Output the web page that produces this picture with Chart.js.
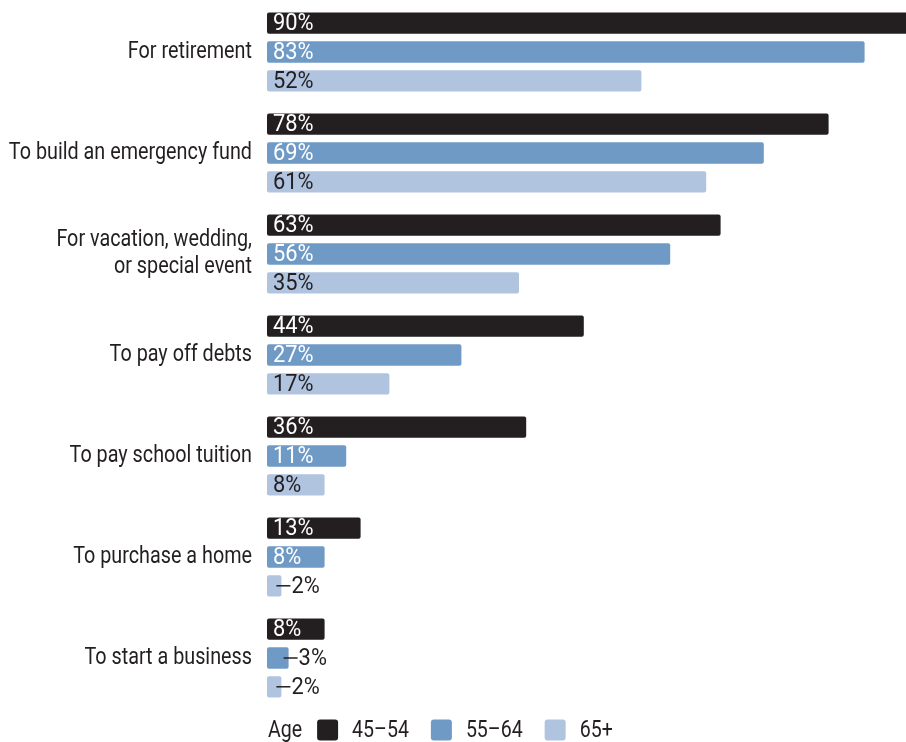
<!DOCTYPE html>
<html>
<head>
<meta charset="utf-8">
<script src="https://cdn.jsdelivr.net/npm/chart.js@4/dist/chart.umd.min.js"></script>
<style>
  html, body { margin: 0; padding: 0; background: #ffffff; overflow: hidden; }
  #wrap { width: 906px; height: 742px; position: relative; }
</style>
</head>
<body>
<div id="wrap"><canvas id="chart" width="906" height="742"></canvas></div>
<script>
// Reasons for saving, by age group (percent of respondents)
const categories = [
  'For retirement',
  'To build an emergency fund',
  ['For vacation, wedding,', 'or special event'],
  'To pay off debts',
  'To pay school tuition',
  'To purchase a home',
  'To start a business'
];
const ageGroups = ['45–54', '55–64', '65+'];
const age45to54 = [90, 78, 63, 44, 36, 13, 8];
const age55to64 = [83, 69, 56, 27, 11, 8, 3];
const age65plus = [52, 61, 35, 17, 8, 2, 2];
const legendTitle = 'Age';

const FONT = "Roboto, 'DejaVu Sans Condensed', sans-serif";
const WEIGHT = '400 ';
const TEXT_DARK = '#231f20';
const seriesColors = ['#231f20', '#6f9ac6', '#b0c4e0'];
const labelColors = ['#ffffff', '#ffffff', '#231f20'];

// Draw text narrowed horizontally by factor sx (condensed look)
function narrowText(ctx, text, x, y, sx, align) {
  ctx.save();
  ctx.translate(x, y);
  ctx.scale(sx, 1);
  ctx.textAlign = align || 'left';
  ctx.fillText(text, 0, 0);
  ctx.restore();
}
function narrowWidth(ctx, text, sx) {
  return ctx.measureText(text).width * sx;
}

// Category names, right-aligned against the bars
const categoryLabels = {
  id: 'categoryLabels',
  afterDraw(chart) {
    const ctx = chart.ctx;
    const yScale = chart.scales.y;
    const x = chart.chartArea.left - 15;
    const lineH = 27;
    ctx.save();
    ctx.font = WEIGHT + '23px ' + FONT;
    ctx.textBaseline = 'middle';
    ctx.fillStyle = TEXT_DARK;
    chart.data.labels.forEach((lbl, i) => {
      const lines = Array.isArray(lbl) ? lbl : [lbl];
      const cy = yScale.getPixelForTick(i);
      const y0 = cy - (lines.length - 1) * lineH / 2;
      lines.forEach((ln, k) => narrowText(ctx, ln, x, y0 + k * lineH, 0.86, 'right'));
    });
    ctx.restore();
  }
};

// Percent labels: inside the bar when it fits, otherwise a short leader line and the label outside
const valueLabels = {
  id: 'valueLabels',
  afterDatasetsDraw(chart) {
    const ctx = chart.ctx;
    const sx = 0.95;
    ctx.save();
    ctx.font = WEIGHT + '23px ' + FONT;
    ctx.textBaseline = 'middle';
    chart.data.datasets.forEach((ds, di) => {
      const meta = chart.getDatasetMeta(di);
      meta.data.forEach((bar, i) => {
        const txt = ds.data[i] + '%';
        const left = Math.min(bar.base, bar.x);
        const right = Math.max(bar.base, bar.x);
        const w = narrowWidth(ctx, txt, sx);
        const y = bar.y + 1;
        if (right - left >= w + 12) {
          ctx.fillStyle = labelColors[di];
          narrowText(ctx, txt, left + 6, y, sx, 'left');
        } else {
          ctx.strokeStyle = TEXT_DARK;
          ctx.lineWidth = 1.5;
          ctx.beginPath();
          ctx.moveTo(right - 5, bar.y);
          ctx.lineTo(right + 9, bar.y);
          ctx.stroke();
          ctx.fillStyle = TEXT_DARK;
          narrowText(ctx, txt, right + 10, y, sx, 'left');
        }
      });
    });
    ctx.restore();
  }
};

// Legend row along the bottom: title followed by a swatch and label per age group
const ageLegend = {
  id: 'ageLegend',
  afterDraw(chart) {
    const ctx = chart.ctx;
    const cy = 730;
    const sx = 0.85;
    ctx.save();
    ctx.font = WEIGHT + '23px ' + FONT;
    ctx.textBaseline = 'middle';
    ctx.fillStyle = TEXT_DARK;
    let x = chart.chartArea.left + 1;
    narrowText(ctx, legendTitle, x, cy + 1, sx, 'left');
    x += narrowWidth(ctx, legendTitle, sx) + 15;
    chart.data.datasets.forEach((ds, di) => {
      ctx.fillStyle = seriesColors[di];
      ctx.beginPath();
      ctx.roundRect(x, cy - 10.5, 21, 21, 3);
      ctx.fill();
      x += 21 + 14;
      ctx.fillStyle = TEXT_DARK;
      narrowText(ctx, ds.label, x, cy + 1, sx, 'left');
      x += narrowWidth(ctx, ds.label, sx) + 22;
    });
    ctx.restore();
  }
};

const seriesValues = [age45to54, age55to64, age65plus];

new Chart(document.getElementById('chart'), {
  type: 'bar',
  data: {
    labels: categories,
    datasets: ageGroups.map((g, i) => ({
      label: g,
      data: seriesValues[i],
      backgroundColor: seriesColors[i],
      borderWidth: 0,
      borderRadius: 2,
      borderSkipped: false,
      categoryPercentage: 0.855,
      barPercentage: 0.74
    }))
  },
  options: {
    indexAxis: 'y',
    responsive: false,
    animation: false,
    layout: { padding: { top: 1.5, bottom: 33.5, left: 0, right: 0 } },
    plugins: {
      legend: { display: false },
      tooltip: { enabled: false }
    },
    scales: {
      x: {
        display: false,
        min: 0,
        max: 88.75
      },
      y: {
        grid: { display: false, drawTicks: false },
        border: { display: false },
        ticks: { display: false },
        afterFit(scale) {
          scale.width = 267;
          scale.paddingTop = 0;
          scale.paddingBottom = 0;
        }
      }
    }
  },
  plugins: [valueLabels, categoryLabels, ageLegend]
});
</script>
</body>
</html>
